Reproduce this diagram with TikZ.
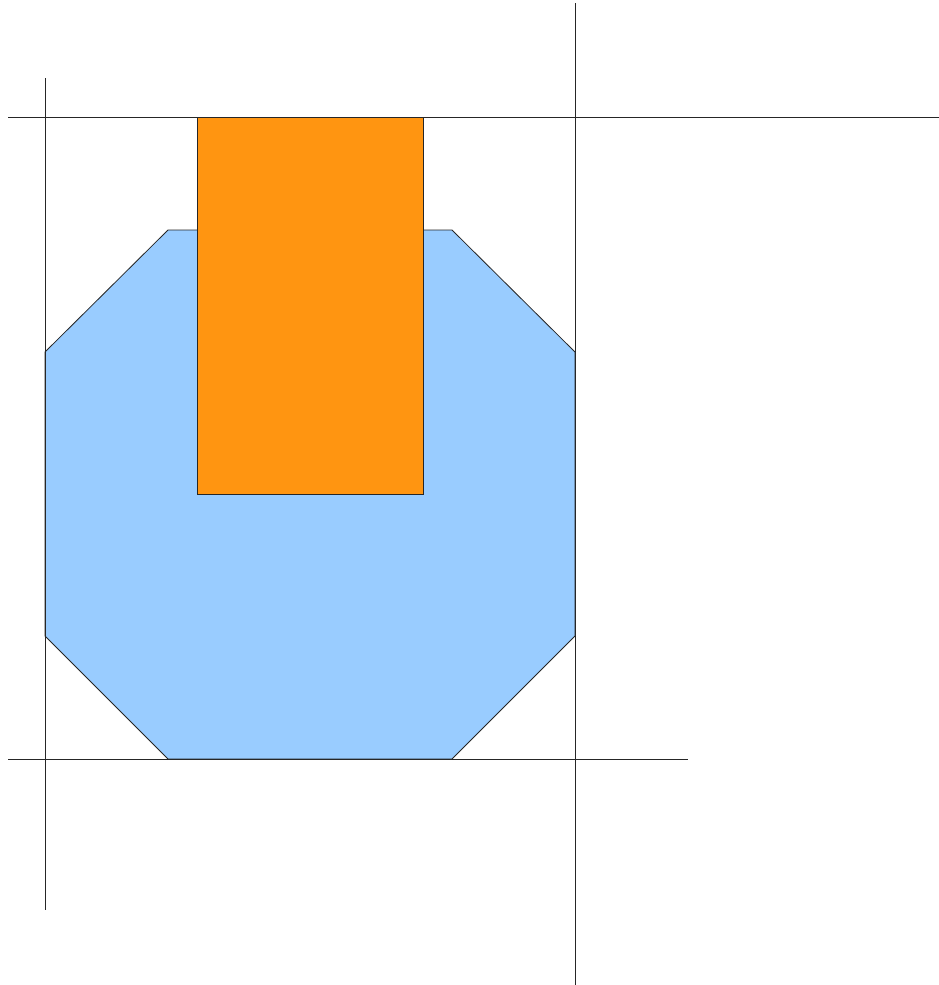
\documentclass[tikz,border=0pt]{standalone}
\begin{document}
\begin{tikzpicture}[x=1pt,y=-1pt,
  guide/.style={draw=black!85,line width=0.8pt},
  octo/.style={fill={rgb,255:red,153;green,204;blue,255},draw=black!85,line width=0.8pt,line join=miter},
  bar/.style={fill={rgb,255:red,255;green,149;blue,17},draw=black!85,line width=0.8pt}]
\useasboundingbox (0,0) rectangle (939,985);
\fill[white] (0,0) rectangle (939,985);
% octagon
\draw[octo] (168,230) -- (452,230) -- (575,352) -- (575,636) -- (452,759) -- (168,759) -- (45,636) -- (45,352) -- cycle;
% orange rectangle
\draw[bar] (197,117) rectangle (423,494);
% guide lines
\coordinate (v1a) at (45,78);  \coordinate (v1b) at (45,910);
\coordinate (v2a) at (575,3);  \coordinate (v2b) at (575,985);
\coordinate (h1a) at (8,117);  \coordinate (h1b) at (939,117);
\coordinate (h2a) at (8,759);  \coordinate (h2b) at (688,759);
\draw[guide] (v1a) -- (v1b);
\draw[guide] (v2a) -- (v2b);
\draw[guide] (h1a) -- (h1b);
\draw[guide] (h2a) -- (h2b);
\end{tikzpicture}
\end{document}
